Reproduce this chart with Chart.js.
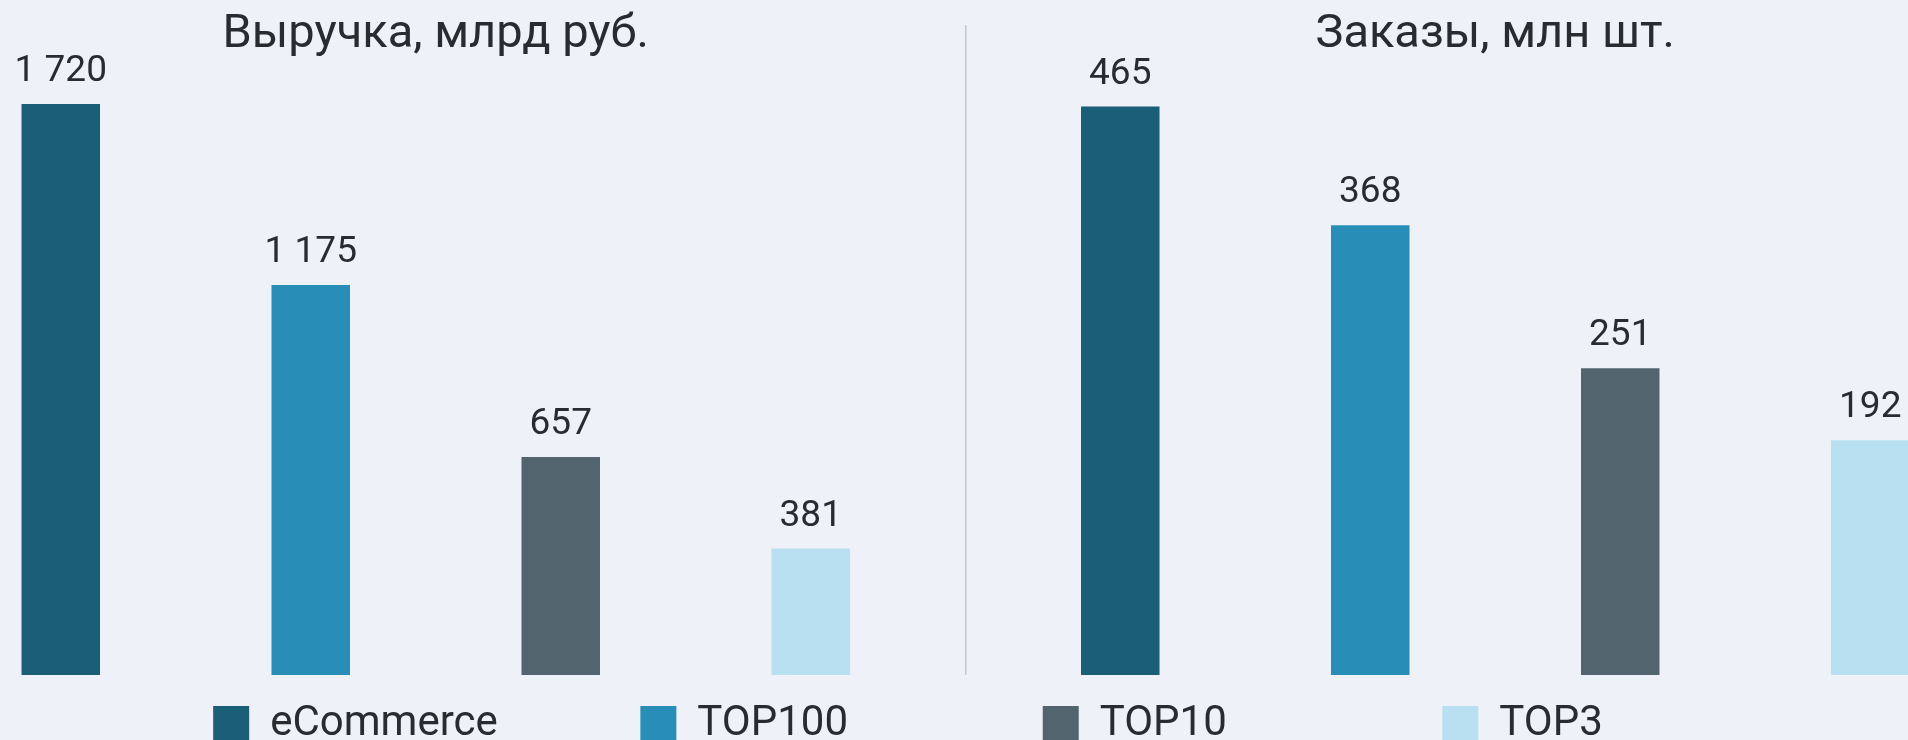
<!DOCTYPE html>
<html><head><meta charset="utf-8">
<script src="https://cdn.jsdelivr.net/npm/chart.js@4"></script>
<style>
html,body{margin:0;padding:0;width:1908px;height:740px;overflow:hidden;background:#EEF1F8;}
#wrap{position:absolute;left:-209px;top:0;width:2234px;height:755px;}
</style></head><body>
<div id="wrap"><canvas id="c" width="2234" height="755"></canvas></div>
<script>
const categories = ['Выручка, млрд руб.', 'Заказы, млн шт.'];
const seriesNames = ['eCommerce', 'TOP100', 'TOP10', 'TOP3'];
const revenueValues = [1720, 1175, 657, 381];
const orderValues = [465, 368, 251, 192];

const seriesColors = ['#1B5E78', '#288DB7', '#52656E', '#B9E0F0'];
const textColor = '#262C30';
const FONT = 'Roboto';

function fmt(v) { return String(v).replace(/\B(?=(\d{3})+(?!\d))/g, ' '); }

const datasets = [];
seriesNames.forEach((name, i) => datasets.push({
  label: name, data: [revenueValues[i], null], yAxisID: 'y',
  backgroundColor: seriesColors[i], borderWidth: 0, skipNull: true,
  categoryPercentage: 0.9438, barPercentage: 0.314
}));
seriesNames.forEach((name, i) => datasets.push({
  label: name, data: [null, orderValues[i]], yAxisID: 'yR',
  backgroundColor: seriesColors[i], borderWidth: 0, skipNull: true,
  categoryPercentage: 0.9438, barPercentage: 0.314
}));

const legendColumnText = [339, 311, 311, 0];

const valueLabels = {
  id: 'valueLabels',
  afterDatasetsDraw(chart) {
    const ctx = chart.ctx;
    ctx.save();
    ctx.font = '37px ' + FONT;
    ctx.fillStyle = textColor;
    ctx.textAlign = 'center';
    ctx.textBaseline = 'alphabetic';
    chart.data.datasets.forEach((ds, di) => {
      const meta = chart.getDatasetMeta(di);
      meta.data.forEach((el, j) => {
        const v = ds.data[j];
        if (v == null) return;
        ctx.fillText(fmt(v), el.x, el.y - 23);
      });
    });
    ctx.restore();
  }
};

new Chart(document.getElementById('c'), {
  type: 'bar',
  data: { labels: categories, datasets },
  plugins: [valueLabels],
  options: {
    responsive: false,
    animation: false,
    devicePixelRatio: 1,
    layout: { padding: 0 },
    plugins: {
      tooltip: { enabled: false },
      legend: {
        position: 'bottom',
        labels: {
          boxWidth: 36, boxHeight: 36, padding: 28,
          color: textColor,
          font: { family: FONT, size: 42 },
          generateLabels(chart) {
            const ctx = chart.ctx;
            ctx.save();
            ctx.font = '42px ' + FONT;
            const items = seriesNames.map((name, i) => {
              let t = name;
              while (ctx.measureText(t).width < legendColumnText[i]) t += ' ';
              return { text: t, fillStyle: seriesColors[i], strokeStyle: seriesColors[i],
                       lineWidth: 0, hidden: false, datasetIndex: i, fontColor: textColor };
            });
            ctx.restore();
            return items;
          }
        }
      }
    },
    scales: {
      x: {
        position: 'top',
        offset: true,
        grid: { display: true, offset: true, color: '#C3C7CC', lineWidth: 1.5,
                drawTicks: true, tickLength: 42.5, tickColor: '#C3C7CC' },
        border: { display: false },
        ticks: { color: textColor, font: { family: FONT, size: 47 }, padding: -38,
                 autoSkip: false, maxRotation: 0, minRotation: 0 },
        afterFit(s) { s.height = 67.5; }
      },
      y: {
        position: 'left', min: 0, max: 1830,
        grid: { display: false }, border: { display: false }, ticks: { display: false },
        afterFit(s) { s.width = 115; }
      },
      yR: { position: 'right', display: false, min: 0, max: 497 }
    }
  }
});
</script>
</body></html>
